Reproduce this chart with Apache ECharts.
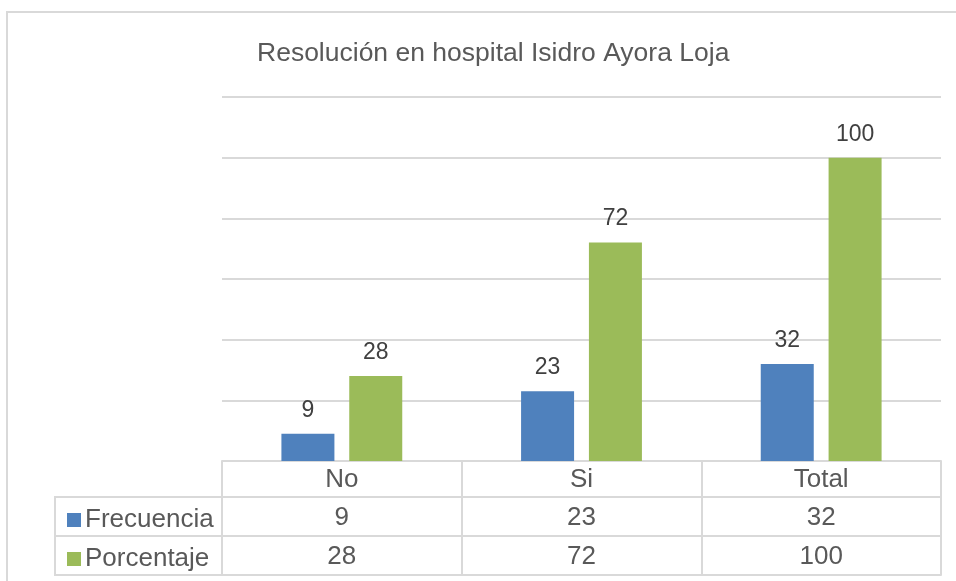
<!DOCTYPE html>
<html lang="es">

<head>
  <meta charset="utf-8">
  <title>Resolución en hospital Isidro Ayora Loja</title>
  <style>
    html, body { margin: 0; padding: 0; background: #fff; }
    .box { width: 956px; height: 581px; }
  </style>
</head>

<body>
  <script type="text/javascript" src="https://cdn.jsdelivr.net/npm/echarts@6/dist/echarts.min.js"></script>
  <div class="box"></div>
  <script>
    // datos
    var categorias = ['No', 'Si', 'Total'];
    var frecuencia = [9, 23, 32];
    var porcentaje = [28, 72, 100];
    var nombres = ['Frecuencia', 'Porcentaje'];

    var box = document.querySelector('.box');
    var myChart = echarts.init(box);

    var fuente = 'Liberation Sans, Arial, sans-serif';
    var gris = '#d9d9d9';
    var texto = '#595959';

    // filas de la tabla de datos bajo el eje
    function filaTabla(offset, valores, mostrarLinea) {
      return {
        type: 'category',
        data: categorias,
        position: 'bottom',
        offset: offset,
        axisLine: { show: mostrarLinea, lineStyle: { color: gris, width: 2 } },
        axisTick: { show: false },
        axisLabel: {
          show: !!valores,
          interval: 0,
          margin: 8,
          fontSize: 26,
          fontFamily: fuente,
          color: texto,
          formatter: function (v, i) { return valores ? String(valores[i]) : ''; }
        }
      };
    }

    var option = {
      animation: false,
      title: {
        text: 'Resolución en hospital Isidro Ayora Loja',
        left: 252,
        top: 35,
        textStyle: { fontSize: 26.5, fontWeight: 'normal', color: texto, fontFamily: fuente }
      },
      legend: {
        orient: 'vertical',
        left: 62,
        top: 502,
        itemWidth: 14,
        itemHeight: 14,
        itemGap: 13,
        icon: 'rect',
        selectedMode: false,
        data: nombres,
        textStyle: { fontSize: 26, lineHeight: 26, color: texto, fontFamily: fuente, padding: [0, 0, 0, -1] }
      },
      grid: { left: 222, right: 15, top: 97, bottom: 120 },
      xAxis: [
        {
          type: 'category',
          data: categorias,
          position: 'bottom',
          axisLine: { show: true, lineStyle: { color: gris, width: 2 } },
          axisTick: { show: true, interval: 0, length: 114, lineStyle: { color: gris, width: 2 } },
          axisLabel: { interval: 0, margin: 6, fontSize: 26, fontFamily: fuente, color: texto }
        },
        filaTabla(36, frecuencia, true),
        filaTabla(75, porcentaje, true),
        filaTabla(114, null, true)
      ],
      yAxis: {
        type: 'value',
        min: 0,
        max: 120,
        interval: 20,
        axisLabel: { show: false },
        axisLine: { show: false },
        axisTick: { show: false },
        splitLine: { lineStyle: { color: gris, width: 2 } }
      },
      graphic: [
        // marco exterior
        { type: 'rect', shape: { x: 7, y: 12, width: 1000, height: 700 }, style: { fill: 'none', stroke: gris, lineWidth: 2 }, silent: true },
        // columna de leyenda de la tabla
        { type: 'polyline', shape: { points: [[222, 497], [55, 497], [55, 575], [222, 575]] }, style: { fill: 'none', stroke: gris, lineWidth: 2 }, silent: true },
        { type: 'line', shape: { x1: 55, y1: 536, x2: 222, y2: 536 }, style: { stroke: gris, lineWidth: 2 }, silent: true }
      ],
      series: [
        {
          name: nombres[0],
          type: 'bar',
          data: frecuencia,
          barWidth: 53,
          barGap: '28%',
          itemStyle: { color: '#4f81bd' },
          label: { show: true, position: 'top', distance: 12, fontSize: 23, color: '#404040', fontFamily: fuente }
        },
        {
          name: nombres[1],
          type: 'bar',
          data: porcentaje,
          barWidth: 53,
          barGap: '28%',
          itemStyle: { color: '#9bbb59' },
          label: { show: true, position: 'top', distance: 12, fontSize: 23, color: '#404040', fontFamily: fuente }
        }
      ]
    };
    myChart.setOption(option);
  </script>
</body>

</html>
